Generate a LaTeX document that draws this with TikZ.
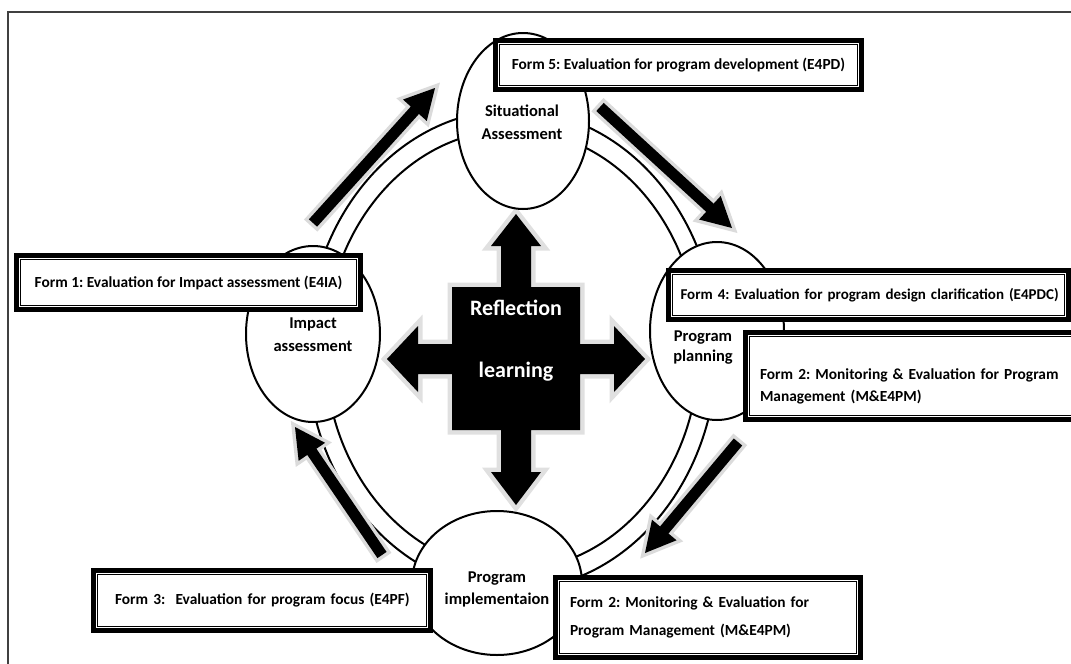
\documentclass[tikz,border=0pt]{standalone}
\usepackage{fontspec}
\setmainfont{Carlito}
\usetikzlibrary{calc,shapes.geometric}

\tikzset{
  framestyle/.style={draw=black!75, line width=1.3pt},
  ringline/.style={draw=black, line width=2pt},
  stage/.style={ellipse, draw=black, line width=2pt, fill=white, inner sep=0pt},
  stagetext/.style={font=\fontsize{16.5}{23}\selectfont\bfseries, align=center, inner sep=0pt},
  formbox/.style={rectangle, draw=black, line width=1.2pt, fill=white,
    inner xsep=10.5pt, inner ysep=0pt,
    preaction={draw=black, line width=13pt},
    preaction={draw=white, line width=3.5pt},
    font=\fontsize{15.4}{22}\selectfont\bfseries, align=left},
  blockarrow/.style={fill=black, line join=miter,
    preaction={draw=black!14, line width=7pt, line join=miter}},
  crossarrow/.style={fill=black, line join=miter,
    preaction={draw=black!12, line width=9pt, line join=miter}},
  crosstext/.style={font=\fontsize{22}{62}\selectfont\bfseries, text=white, align=center, inner sep=0pt}
}

% block arrow from a tail coordinate to a tip coordinate
\newcommand{\blockarrowshape}[2]{%
  \coordinate (#2-base) at ($(#2)!30pt!(#1)$);
  \path[blockarrow] ($(#1)!5.5pt!90:(#2)$) -- ($(#2-base)!5.5pt!90:(#2)$)
    -- ($(#2-base)!16pt!90:(#2)$) -- (#2) -- ($(#2-base)!16pt!-90:(#2)$)
    -- ($(#2-base)!5.5pt!-90:(#2)$) -- ($(#1)!5.5pt!-90:(#2)$) -- cycle;
}

\begin{document}
\frenchspacing
\begin{tikzpicture}[x=1pt, y=-1pt]
\useasboundingbox (0,0) rectangle (1071,664);

% outer frame
\coordinate (frameA) at (8,664);
\coordinate (frameB) at (8,12);
\coordinate (frameC) at (1071,12);
\draw[framestyle] (frameA) -- (frameB) -- (frameC);

% the cycle ring
\coordinate (ringc) at (512,350);
\draw[ringline] (ringc) ellipse [x radius=205pt, y radius=240pt];
\draw[ringline] (ringc) ellipse [x radius=187pt, y radius=220pt];

% flow arrows around the ring
\coordinate (a1tail) at (313,223); \coordinate (a1tip) at (435,88);
\coordinate (a2tail) at (600,107); \coordinate (a2tip) at (732,228);
\coordinate (a3tail) at (738,442); \coordinate (a3tip) at (645,553);
\coordinate (a4tail) at (382,555); \coordinate (a4tip) at (295,427);
\blockarrowshape{a1tail}{a1tip}
\blockarrowshape{a2tail}{a2tip}
\blockarrowshape{a3tail}{a3tip}
\blockarrowshape{a4tail}{a4tip}

% central four-way arrow
\coordinate (crossc) at (516,359);
\begin{scope}[shift={(crossc)}]
\path[crossarrow] (0,-145) -- (25,-113) -- (15,-113) -- (15,-72) -- (64,-72)
  -- (64,-15) -- (98,-15) -- (98,-33) -- (129,0) -- (98,33) -- (98,15)
  -- (64,15) -- (64,71) -- (15,71) -- (15,113) -- (25,113) -- (0,146)
  -- (-25,113) -- (-15,113) -- (-15,71) -- (-64,71) -- (-64,15) -- (-98,15)
  -- (-98,33) -- (-129,0) -- (-98,-33) -- (-98,-15) -- (-64,-15) -- (-64,-72)
  -- (-15,-72) -- (-15,-113) -- (-25,-113) -- cycle;
\end{scope}
\node[crosstext] (reflect) at (516,341) {Reflection\\learning};

% stages
\node[stage, minimum width=132pt, minimum height=176pt] (sit) at (523,121) {};
\node[stagetext] (sittext) at (522,122) {Situational\\Assessment};
\node[stage, minimum width=134pt, minimum height=176pt] (impact) at (313,334) {};
\node[stagetext] (impacttext) at (313,335) {Impact\\assessment};
\node[stage, minimum width=134pt, minimum height=178pt] (plan) at (717,331) {};
\node[stagetext, font=\fontsize{16.5}{20}\selectfont\bfseries] (plantext) at (703,348) {Program\\planning};
\node[stage, minimum width=170pt, minimum height=144pt] (impl) at (497,583) {};
\node[stagetext, font=\fontsize{16.5}{22}\selectfont\bfseries] (impltext) at (497,589) {Program\\implementaion};

% evaluation forms
\node[formbox, minimum width=358pt, minimum height=41pt] (form5) at (678.5,65)
  {Form 5: Evaluation for program development (E4PD)};
\node[formbox, minimum width=336pt, minimum height=46pt] (form1) at (188.5,282.5)
  {Form 1: Evaluation for Impact assessment (E4IA)};
\node[formbox, text width=376pt, inner xsep=8pt, minimum height=41pt,
      font=\fontsize{15}{22}\selectfont\bfseries] (form4) at (868.5,295)
  {\mbox{Form 4: Evaluation for program design clarification (E4PDC)}};
\node[formbox, text width=313pt, minimum height=79pt] (form2a) at (916.5,376)
  {\rule{0pt}{31pt}Form 2: Monitoring \& Evaluation for Program\\Management (M\&E4PM)};
\node[formbox, text width=294pt, inner xsep=17.5pt, minimum height=52pt] (form3) at (262,600.5)
  {\mbox{Form 3:~~Evaluation for program focus (E4PF)}};
\node[formbox, text width=276pt, minimum height=72pt,
      font=\fontsize{15.4}{28}\selectfont\bfseries] (form2b) at (708,617.5)
  {Form 2: Monitoring \& Evaluation for\\Program Management (M\&E4PM)};
\end{tikzpicture}
\end{document}
